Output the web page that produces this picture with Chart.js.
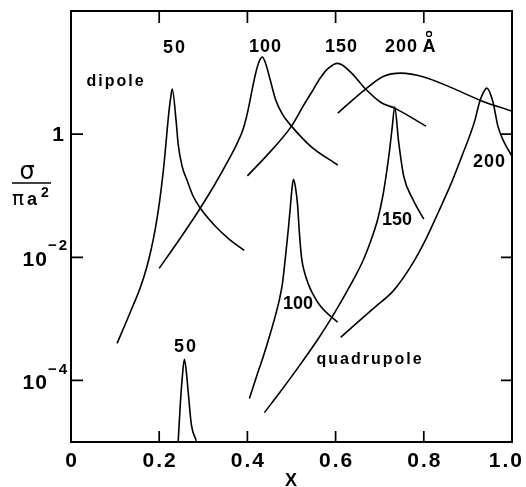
<!DOCTYPE html>
<html>
<head>
<meta charset="utf-8">
<script src="https://cdn.jsdelivr.net/npm/chart.js@4.4.1/dist/chart.umd.min.js"></script>
<style>
  html, body { margin: 0; padding: 0; background: #fff; }
  canvas { display: block; }
</style>
</head>
<body>
<canvas id="chartSigma" width="526" height="487"></canvas>
<script>
// x ticks and y ticks
const xTicks = [0, 0.2, 0.4, 0.6, 0.8, 1.0];
const xTickLabels = ['0', '0.2', '0.4', '0.6', '0.8', '1.0'];
const yTicks = [1e-4, 1e-2, 1];

// dipole curves (radius in angstrom)
const d50x = [0.1045, 0.1227, 0.141, 0.157, 0.1705, 0.1818, 0.1909, 0.1977, 0.2045, 0.2114, 0.2182, 0.2227, 0.2273, 0.2295, 0.2386, 0.243, 0.252, 0.264, 0.277, 0.293, 0.3273, 0.359, 0.393];
const d50y = [4.0e-4, 8.1e-4, 1.66e-3, 3.2e-3, 6.4e-3, 1.35e-2, 2.85e-2, 5.6e-2, 0.128, 0.35, 1.2, 2.55, 4.5, 5.4, 1.57, 0.69, 0.30, 0.172, 0.098, 0.063, 0.0319, 0.0196, 0.0129];

const d100x = [0.200, 0.243, 0.2886, 0.325, 0.357, 0.377, 0.391, 0.402, 0.411, 0.420, 0.427, 0.434, 0.441, 0.450, 0.4636, 0.4795, 0.500, 0.543, 0.605];
const d100y = [6.6e-3, 1.82e-2, 5.6e-2, 0.148, 0.378, 0.714, 1.25, 2.55, 5.4, 10.6, 15.4, 17.9, 14.3, 8.5, 3.7, 2.1, 1.35, 0.64, 0.313];

const d150x = [0.400, 0.452, 0.500, 0.527, 0.550, 0.566, 0.582, 0.605, 0.634, 0.668, 0.702, 0.736, 0.805];
const d150y = [0.21, 0.52, 1.35, 2.9, 5.4, 8.3, 11.5, 14.1, 10.2, 5.4, 3.3, 2.6, 1.35];

const d200x = [0.605, 0.668, 0.709, 0.748, 0.800, 0.861, 0.930, 1.000];
const d200y = [2.2, 5.4, 8.7, 9.8, 8.5, 5.75, 3.5, 2.35];

// quadrupole curves
const q50x = [0.243, 0.248, 0.252, 0.257, 0.261, 0.266, 0.273, 0.284];
const q50y = [1.0e-5, 4.3e-5, 1.05e-4, 2.2e-4, 1.5e-4, 6.2e-5, 1.9e-5, 1.05e-5];

const q100x = [0.4045, 0.420, 0.436, 0.452, 0.4636, 0.4727, 0.4795, 0.484, 0.4886, 0.4932, 0.4977, 0.501, 0.5045, 0.509, 0.5136, 0.518, 0.5227, 0.5295, 0.5386, 0.5477, 0.566, 0.6045];
const q100y = [5.1e-5, 1.12e-4, 2.45e-4, 5.8e-4, 1.14e-3, 2.07e-3, 3.78e-3, 7.1e-3, 1.46e-2, 3.07e-2, 7.0e-2, 0.128, 0.185, 0.137, 7.3e-2, 2.45e-2, 1.0e-2, 5.7e-3, 3.6e-3, 2.6e-3, 1.6e-3, 8.8e-4];

const q150x = [0.4386, 0.475, 0.5136, 0.561, 0.5886, 0.618, 0.641, 0.6636, 0.6795, 0.6955, 0.707, 0.716, 0.7227, 0.7284, 0.734, 0.743, 0.7545, 0.775, 0.800];
const q150y = [3.0e-5, 6.6e-5, 1.57e-4, 4.8e-4, 9.8e-4, 2.24e-3, 4.4e-3, 9.3e-3, 1.82e-2, 4.15e-2, 9.8e-2, 0.25, 0.57, 1.30, 2.75, 0.74, 0.207, 0.088, 0.0415];

const q200x = [0.6114, 0.6477, 0.6886, 0.7318, 0.7705, 0.8045, 0.834, 0.8614, 0.8864, 0.9045, 0.916, 0.925, 0.934, 0.943, 0.957, 0.968, 0.982, 1.000];
const q200y = [5.0e-4, 8.5e-4, 1.54e-3, 2.9e-3, 7.1e-3, 1.96e-2, 5.6e-2, 0.154, 0.44, 0.96, 1.69, 3.07, 4.6, 5.6, 3.3, 1.35, 0.74, 0.44];

function puntos(xs, ys) {
  return xs.map((x, i) => ({ x: x, y: ys[i] }));
}

function curva(xs, ys) {
  return {
    data: puntos(xs, ys),
    borderColor: '#000',
    borderWidth: 1.6,
    pointRadius: 0,
    fill: false,
    cubicInterpolationMode: 'monotone'
  };
}

const FAM = '"Liberation Sans", Arial, sans-serif';
const BOLD = 'bold 18px ' + FAM;

function texto(ctx, str, x, y, font, spacing, align) {
  ctx.font = font;
  ctx.letterSpacing = (spacing || 0) + 'px';
  ctx.textAlign = align || 'center';
  ctx.textBaseline = 'middle';
  // letterSpacing also pads the last glyph, compensate when centering
  const dx = (align === 'right') ? (spacing || 0) : (!align || align === 'center') ? (spacing || 0) / 2 : 0;
  ctx.fillText(str, x + dx, y);
}

// frame, inward ticks and all the labels
const marco = {
  id: 'marco',
  afterDraw(chart) {
    const ctx = chart.ctx;
    const a = chart.chartArea;
    const sx = chart.scales.x;
    const sy = chart.scales.y;
    ctx.save();
    ctx.strokeStyle = '#000';
    ctx.fillStyle = '#000';
    ctx.lineWidth = 2;
    ctx.strokeRect(a.left, a.top, a.right - a.left, a.bottom - a.top);

    ctx.lineWidth = 1.7;
    ctx.beginPath();
    xTicks.slice(1, -1).forEach(v => {
      const px = sx.getPixelForValue(v);
      ctx.moveTo(px, a.bottom); ctx.lineTo(px, a.bottom - 11);
      ctx.moveTo(px, a.top); ctx.lineTo(px, a.top + 12);
    });
    yTicks.forEach(v => {
      const py = sy.getPixelForValue(v);
      ctx.moveTo(a.left, py); ctx.lineTo(a.left + 12, py);
      ctx.moveTo(a.right, py); ctx.lineTo(a.right - 11, py);
    });
    ctx.stroke();

    // x tick labels (the last one is pulled in so it stays on the canvas)
    const tickFont = 'bold 21px ' + FAM;
    xTicks.forEach((v, i) => {
      ctx.font = tickFont;
      ctx.letterSpacing = '2px';
      const w = ctx.measureText(xTickLabels[i]).width;
      const px = Math.min(sx.getPixelForValue(v), chart.width - w / 2 - 3);
      texto(ctx, xTickLabels[i], px, a.bottom + 19, tickFont, 2);
    });
    texto(ctx, 'X', 291, 481, 'bold 18px ' + FAM, 0);

    // y tick labels
    const p1 = sy.getPixelForValue(1);
    texto(ctx, '1', 64, p1 + 1, tickFont, 0, 'right');
    const supFont = 'bold 15px ' + FAM;
    [[1e-2, '\u22122'], [1e-4, '\u22124']].forEach(([v, e]) => {
      const py = sy.getPixelForValue(v);
      texto(ctx, e, 67, py - 11, supFont, 2, 'right');
      ctx.font = supFont;
      ctx.letterSpacing = '2px';
      const w = ctx.measureText(e).width;
      texto(ctx, '10', 67 - w + 1, py + 3, tickFont, 1, 'right');
    });

    // y axis title: sigma / (pi a^2)
    texto(ctx, '\u03C3', 27, 173, '24px "DejaVu Sans", sans-serif', 0);
    ctx.lineWidth = 1.5;
    ctx.beginPath();
    ctx.moveTo(12, 183); ctx.lineTo(51, 183);
    ctx.stroke();
    texto(ctx, '\u03C0', 18, 200, '20px "DejaVu Sans", sans-serif', 0);
    texto(ctx, 'a', 32, 200, 'bold 18px ' + FAM, 0);
    texto(ctx, '2', 45, 193, 'bold 14px ' + FAM, 0);

    // curve labels
    texto(ctx, '50', 174, 48, BOLD, 2);
    texto(ctx, '100', 265, 47, BOLD, 1);
    texto(ctx, '150', 341, 47, BOLD, 1);
    texto(ctx, '200', 401, 47, BOLD, 1);
    texto(ctx, 'A', 429, 47, BOLD, 0);
    ctx.lineWidth = 1.3;
    ctx.beginPath();
    ctx.arc(429, 34, 2.5, 0, Math.PI * 2);
    ctx.stroke();
    texto(ctx, 'dipole', 115, 82, 'bold 16px ' + FAM, 2);
    texto(ctx, 'quadrupole', 369, 360, 'bold 16px ' + FAM, 2);
    texto(ctx, '50', 185, 347, BOLD, 2);
    texto(ctx, '100', 298, 304, BOLD, 0);
    texto(ctx, '150', 397, 220, BOLD, 0);
    texto(ctx, '200', 489, 162, BOLD, 1);
    ctx.restore();
  }
};

new Chart(document.getElementById('chartSigma').getContext('2d'), {
  type: 'line',
  data: {
    datasets: [
      curva(d50x, d50y), curva(d100x, d100y), curva(d150x, d150y), curva(d200x, d200y),
      curva(q50x, q50y), curva(q100x, q100y), curva(q150x, q150y), curva(q200x, q200y)
    ]
  },
  options: {
    responsive: false,
    animation: false,
    devicePixelRatio: 1,
    layout: { padding: { left: 71, right: 14, top: 11, bottom: 45 } },
    plugins: { legend: { display: false }, tooltip: { enabled: false } },
    scales: {
      x: { type: 'linear', min: 0, max: 1, display: false },
      y: { type: 'logarithmic', min: 1e-5, max: 100, display: false }
    }
  },
  plugins: [marco]
});
</script>
</body>
</html>
